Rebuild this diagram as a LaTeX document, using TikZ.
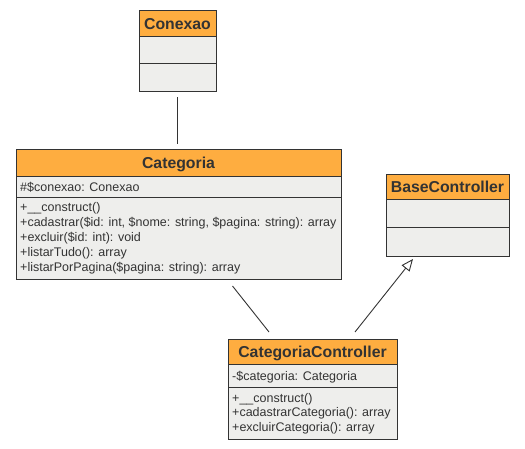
\documentclass[tikz,border=0pt]{standalone}
\usepackage{fontspec}
\setmainfont{Liberation Sans}
\usetikzlibrary{arrows.meta}
\definecolor{hdr}{RGB}{254,173,64}
\definecolor{bdy}{RGB}{238,238,236}
\definecolor{edge}{RGB}{51,51,51}
\begin{document}
\begin{tikzpicture}[x=1pt,y=-1pt,
  comp/.style={draw=edge, line width=1pt, fill=bdy, inner sep=0pt, outer sep=0pt},
  head/.style={comp, fill=hdr},
  title/.style={font=\fontsize{15.8}{18}\selectfont\bfseries, text=edge, inner sep=0pt, anchor=base},
  member/.style={font=\fontsize{12.5}{15}\selectfont, text=edge, inner sep=0pt, anchor=base west},
  link/.style={draw=edge, line width=0.9pt},
  inherit/.style={link, -{Triangle[open, length=12pt, width=10pt, fill=white]}}
]
\useasboundingbox (0,0) rectangle (525,449);

% Conexao
\node[head, minimum width=77, minimum height=26] (conH) at (177.5,24) {};
\node[comp, minimum width=77, minimum height=27] (conA) at (177.5,50.5) {};
\node[comp, minimum width=77, minimum height=28] (conO) at (177.5,78) {};
\node[title] (conT) at (177.5,29.5) {Conexao};

% Categoria
\node[head, minimum width=325, minimum height=27] (catH) at (178.5,163.5) {};
\node[comp, minimum width=325, minimum height=21] (catA) at (178.5,187.5) {};
\node[comp, minimum width=325, minimum height=82] (catO) at (178.5,239) {};
\node[title] (catT) at (178.5,169) {Categoria};
\node[member] (catA1) at (20,192) {\#\$conexao: Conexao};
\node[member] (catO1) at (20,212) {+\_\_construct()};
\node[member] (catO2) at (20,227) {+cadastrar(\$id: int, \$nome: string, \$pagina: string): array};
\node[member] (catO3) at (20,242) {+excluir(\$id: int): void};
\node[member] (catO4) at (20,257) {+listarTudo(): array};
\node[member] (catO5) at (20,272) {+listarPorPagina(\$pagina: string): array};

% BaseController
\node[head, minimum width=123, minimum height=25] (baseH) at (447.5,187.5) {};
\node[comp, minimum width=123, minimum height=28] (baseA) at (447.5,214) {};
\node[comp, minimum width=123, minimum height=29] (baseO) at (447.5,242.5) {};
\node[title] (baseT) at (447.5,193) {BaseController};

% CategoriaController
\node[head, minimum width=169, minimum height=25] (ccH) at (312.5,351.5) {};
\node[comp, minimum width=169, minimum height=23] (ccA) at (312.5,375.5) {};
\node[comp, minimum width=169, minimum height=52] (ccO) at (312.5,413) {};
\node[title] (ccT) at (312.5,357) {CategoriaController};
\node[member] (ccA1) at (232,380) {-\$categoria: Categoria};
\node[member] (ccO1) at (232,402) {+\_\_construct()};
\node[member] (ccO2) at (232,416.5) {+cadastrarCategoria(): array};
\node[member] (ccO3) at (232,431) {+excluirCategoria(): array};

% connector end points
\coordinate (p1) at (177.5,97.5);
\coordinate (p2) at (177.5,144.5);
\coordinate (p3) at (232.5,286);
\coordinate (p4) at (269,332);
\coordinate (p5) at (355,332);
\coordinate (p6) at (413,259);

\draw[link] (p1) -- (p2);
\draw[link] (p3) -- (p4);
\draw[inherit] (p5) -- (p6);
\end{tikzpicture}
\end{document}
